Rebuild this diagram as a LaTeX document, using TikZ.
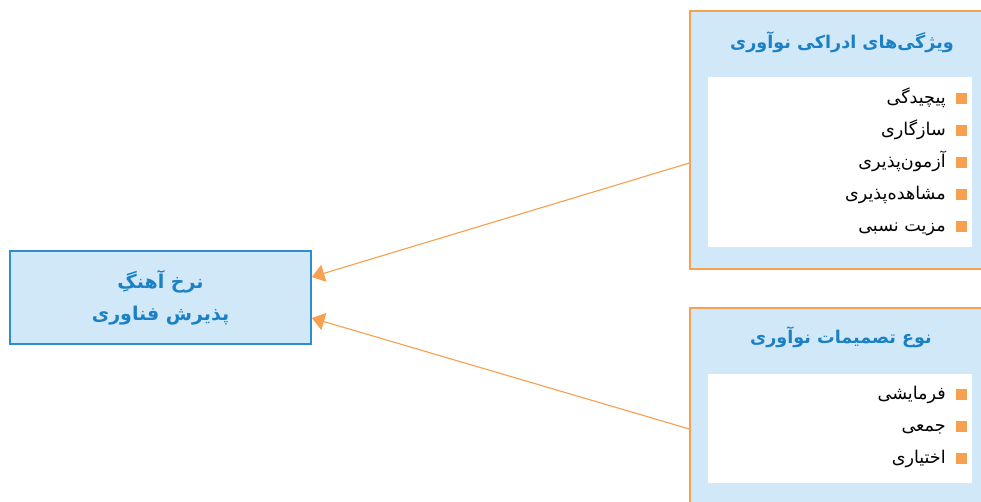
\documentclass[tikz,border=0pt]{standalone}
\usepackage{fontspec}
\usetikzlibrary{arrows.meta}
\TeXXeTstate=1
\newfontfamily\farsi[Script=Arabic]{DejaVu Sans}
\definecolor{boxfill}{RGB}{208,232,248}
\definecolor{boxblue}{RGB}{46,141,206}
\definecolor{titleblue}{RGB}{28,128,196}
\definecolor{lineorange}{RGB}{247,160,80}

\begin{document}
\begin{tikzpicture}[x=0.025cm,y=-0.025cm,
    outerbox/.style={draw=lineorange,line width=0.9pt,fill=boxfill,minimum width=7.75cm},
    innerbox/.style={fill=white,minimum width=6.6cm},
    boxtitle/.style={text=titleblue,font=\farsi\bfseries\fontsize{12.5}{15}\selectfont},
    itemtext/.style={anchor=base east,inner sep=0pt,font=\farsi\fontsize{12.5}{14}\selectfont},
    bullet/.style={fill=lineorange,minimum size=0.275cm,inner sep=0pt},
    link/.style={draw=lineorange,line width=0.8pt,-{Triangle[length=9pt,width=12.5pt]}}]
  \useasboundingbox (0,0) rectangle (981,501);
  \clip (0,0) rectangle (981,501);

  \node[draw=boxblue,line width=1pt,fill=boxfill,minimum width=7.525cm,minimum height=2.325cm,
    align=center,text=titleblue,font=\farsi\bfseries\fontsize{13.5}{23}\selectfont]
    (rate) at (160.5,297.5) {\beginR نرخ آهنگِ\endR\\\beginR پذیرش فناوری\endR};

  % first group
  \node[outerbox,minimum height=6.45cm] (traits) at (845,140) {};
  \node[innerbox,minimum height=4.25cm] (traitlist) at (840,162) {};
  \node[boxtitle] (traittitle) at (842,42) {\beginR ویژگی‌های ادراکی نوآوری\endR};
  \foreach \txt [count=\i] in {پیچیدگی,سازگاری,آزمون‌پذیری,مشاهده‌پذیری,مزیت نسبی} {
    \node[bullet] (tb\i) at (961,{66+32*\i}) {};
    \node[itemtext] (t\i) at (946,{71+32*\i}) {\beginR\txt\endR};
  }

  % second group
  \node[outerbox,minimum height=6.05cm] (kinds) at (845,429) {};
  \node[innerbox,minimum height=2.725cm] (kindlist) at (840,428.5) {};
  \node[boxtitle] (kindtitle) at (841,337) {\beginR نوع تصمیمات نوآوری\endR};
  \foreach \txt [count=\i] in {فرمایشی,جمعی,اختیاری} {
    \node[bullet] (kb\i) at (961,{362+32*\i}) {};
    \node[itemtext] (k\i) at (946,{367+32*\i}) {\beginR\txt\endR};
  }

  \draw[link] ([yshift=-0.575cm]traits.west) -- ([yshift=0.5125cm]rate.east);
  \draw[link] (kinds.west) -- ([yshift=-0.5125cm]rate.east);
\end{tikzpicture}
\end{document}
